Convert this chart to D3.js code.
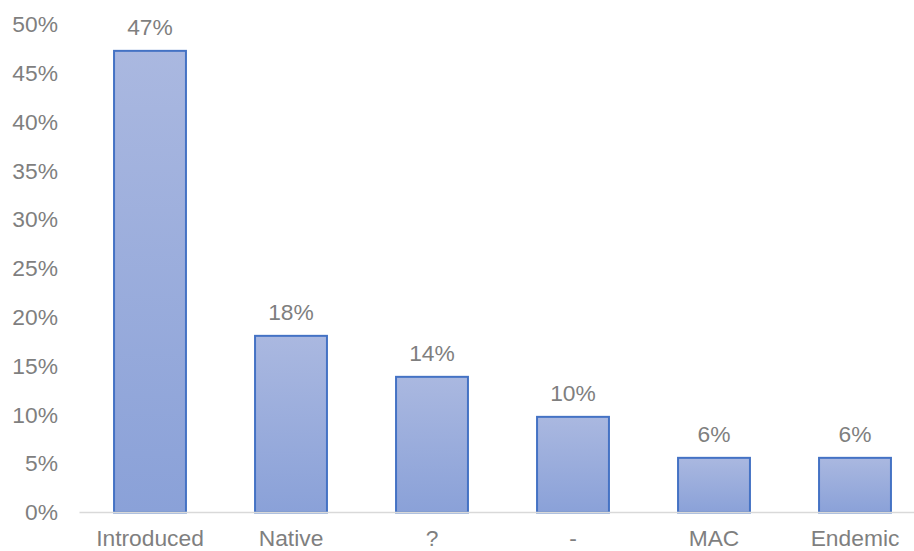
<!DOCTYPE html>
<html>
<head>
<meta charset="utf-8">
<script src="https://cdn.jsdelivr.net/npm/d3@7/dist/d3.min.js"></script>
<style>
  html, body { margin: 0; padding: 0; background: #fff; }
  svg { display: block; font-family: "Liberation Sans", Arial, sans-serif; }
</style>
</head>
<body>
<svg id="chart" width="914" height="551"></svg>
<script>
// Share of species by status
const categories = ["Introduced", "Native", "?", "-", "MAC", "Endemic"];
const shares = [0.473, 0.181, 0.139, 0.098, 0.056, 0.056];
const yTicks = [0, 0.05, 0.10, 0.15, 0.20, 0.25, 0.30, 0.35, 0.40, 0.45, 0.50];

const svg = d3.select("#chart");
const W = 914, H = 551;
const plotLeft = 79.5, plotRight = 925.5, plotTop = 24.5, plotBottom = 512.5;

const x = d3.scaleBand().domain(categories).range([plotLeft, plotRight])
  .paddingInner(0.49).paddingOuter(0.245);
const y = d3.scaleLinear().domain([0, 0.5]).range([plotBottom, plotTop]);

const textColor = "#7f7f7f";
const fontSize = "22.8px";
const fmt = d3.format(".0%");

// vertical gradient used by every bar
const defs = svg.append("defs");
const grad = defs.append("linearGradient").attr("id", "barFill")
  .attr("x1", 0).attr("y1", 0).attr("x2", 0).attr("y2", 1);
grad.append("stop").attr("offset", "0%").attr("stop-color", "#aab8e0");
grad.append("stop").attr("offset", "100%").attr("stop-color", "#8aa1d8");

// value axis labels (no line, no ticks)
const yAxis = d3.axisLeft(y).tickValues(yTicks).tickFormat(fmt).tickSize(0).tickPadding(0);
const gy = svg.append("g").attr("transform", "translate(58,0)").call(yAxis);
gy.select(".domain").remove();
gy.selectAll("text").attr("fill", textColor).style("font-size", fontSize)
  .style("font-family", "'Liberation Sans', Arial, sans-serif");

// bars
svg.append("g").selectAll("rect").data(categories).join("rect")
  .attr("x", d => x(d))
  .attr("y", (d, i) => y(shares[i]))
  .attr("width", x.bandwidth())
  .attr("height", (d, i) => plotBottom - y(shares[i]))
  .attr("fill", "url(#barFill)")
  .attr("stroke", "#4472c4")
  .attr("stroke-width", 2);

// baseline
svg.append("line").attr("x1", plotLeft).attr("x2", W)
  .attr("y1", plotBottom).attr("y2", plotBottom)
  .attr("stroke", "#d9d9d9").attr("stroke-width", 1.5);

// category axis labels
const xAxis = d3.axisBottom(x).tickSize(0).tickPadding(0);
const gx = svg.append("g").attr("transform", `translate(0,${plotBottom})`).call(xAxis);
gx.select(".domain").remove();
gx.selectAll("text").attr("fill", textColor).attr("dy", null).attr("y", 33.5)
  .style("font-size", fontSize)
  .style("font-family", "'Liberation Sans', Arial, sans-serif");

// value labels above bars
svg.append("g").selectAll("text").data(categories).join("text")
  .attr("x", d => x(d) + x.bandwidth() / 2)
  .attr("y", (d, i) => y(shares[i]) - 16)
  .attr("text-anchor", "middle")
  .attr("fill", textColor)
  .style("font-size", fontSize)
  .text((d, i) => fmt(shares[i]));
</script>
</body>
</html>
